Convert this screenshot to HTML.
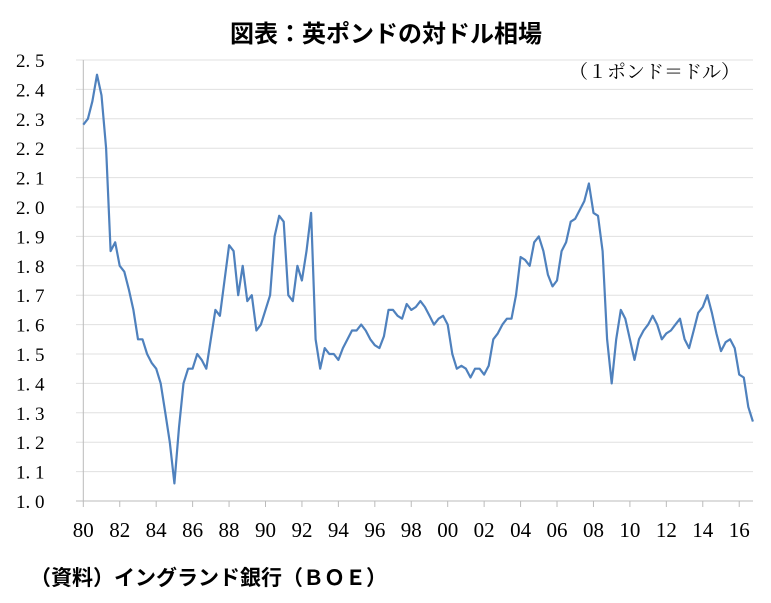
<!DOCTYPE html>
<html><head><meta charset="utf-8">
<style>
body{margin:0;background:#fff;width:771px;height:598px;overflow:hidden;font-family:"Liberation Serif","Noto Serif CJK SC",serif;}
</style></head><body>
<svg width="771" height="598">
<text x="386" y="42" text-anchor="middle" font-family="'Liberation Sans','Noto Sans CJK JP',sans-serif" font-weight="bold" font-size="24">図表：英ポンドの対ドル相場</text>
<text x="740" y="78" text-anchor="end" font-family="'Liberation Serif','Noto Serif CJK SC',serif" font-size="19">（１ポンド＝ドル）</text>
<g id="grid"></g><g id="yl"></g><g id="xl"></g>
<path id="line" fill="none" stroke="#4f81bd" stroke-width="2.2" stroke-linejoin="round"/>
<text x="30" y="585" font-family="'Liberation Sans','Noto Sans CJK JP',sans-serif" font-weight="bold" font-size="21">（資料）イングランド銀行（ＢＯＥ）</text>
</svg>
<script>
const yTicks=[1.0,1.1,1.2,1.3,1.4,1.5,1.6,1.7,1.8,1.9,2.0,2.1,2.2,2.3,2.4,2.5];
const xTickLabels=["80","82","84","86","88","90","92","94","96","98","00","02","04","06","08","10","12","14","16"];
const startYear=1980;
const values=[2.28,2.30,2.36,2.45, 2.38,2.20,1.85,1.88, 1.80,1.78,1.72,1.65, 1.55,1.55,1.50,1.47,
1.45,1.40,1.30,1.20, 1.06,1.25,1.40,1.45, 1.45,1.50,1.48,1.45, 1.55,1.65,1.63,1.75,
1.87,1.85,1.70,1.80, 1.68,1.70,1.58,1.60, 1.65,1.70,1.90,1.97, 1.95,1.70,1.68,1.80,
1.75,1.85,1.98,1.55, 1.45,1.52,1.50,1.50, 1.48,1.52,1.55,1.58, 1.58,1.60,1.58,1.55,
1.53,1.52,1.56,1.65, 1.65,1.63,1.62,1.67, 1.65,1.66,1.68,1.66, 1.63,1.60,1.62,1.63,
1.60,1.50,1.45,1.46, 1.45,1.42,1.45,1.45, 1.43,1.46,1.55,1.57, 1.60,1.62,1.62,1.70,
1.83,1.82,1.80,1.88, 1.90,1.85,1.77,1.73, 1.75,1.85,1.88,1.95, 1.96,1.99,2.02,2.08,
1.98,1.97,1.85,1.55, 1.40,1.55,1.65,1.62, 1.55,1.48,1.55,1.58, 1.60,1.63,1.60,1.55,
1.57,1.58,1.60,1.62, 1.55,1.52,1.58,1.64, 1.66,1.70,1.64,1.57, 1.51,1.54,1.55,1.52,
1.43,1.42,1.32,1.27];
const ns="http://www.w3.org/2000/svg";
const X=y=>83.3+(y-1980)*18.22;
const Y=v=>501-(v-1.0)*294;
const g=document.getElementById('grid'),yl=document.getElementById('yl'),xl=document.getElementById('xl');
yTicks.forEach(v=>{
 const l=document.createElementNS(ns,'line');
 l.setAttribute('x1',76);l.setAttribute('x2',753);l.setAttribute('y1',Y(v));l.setAttribute('y2',Y(v));
 l.setAttribute('stroke',v===1.0?'#bbb':'#e0e0e0');
 
 
 g.appendChild(l);
 const t=document.createElementNS(ns,'text');
 t.setAttribute('x',16);t.setAttribute('y',Y(v)+7);t.setAttribute('font-size','19');
 t.textContent=v.toFixed(1).replace('.','. ');
 
 
 yl.appendChild(t);
});
const a=document.createElementNS(ns,'line');
a.setAttribute('x1',83.3);a.setAttribute('x2',83.3);a.setAttribute('y1',60);a.setAttribute('y2',501);a.setAttribute('stroke','#bbb');


g.appendChild(a);
xTickLabels.forEach((s,i)=>{
 const x=X(1980+2*i);
 const l=document.createElementNS(ns,'line');
 l.setAttribute('x1',x);l.setAttribute('x2',x);l.setAttribute('y1',501);l.setAttribute('y2',507);l.setAttribute('stroke','#bbb');
 
 
 g.appendChild(l);
 const t=document.createElementNS(ns,'text');
 t.setAttribute('x',x);t.setAttribute('y',537);t.setAttribute('font-size','21');t.setAttribute('text-anchor','middle');
 t.textContent=s;
 
 
 xl.appendChild(t);
});
let d='';
values.forEach((v,i)=>{d+=(i?'L':'M')+X(startYear+i*0.25).toFixed(1)+','+Y(v).toFixed(1);});
document.getElementById('line').setAttribute('d',d);
</script>
</body></html>
